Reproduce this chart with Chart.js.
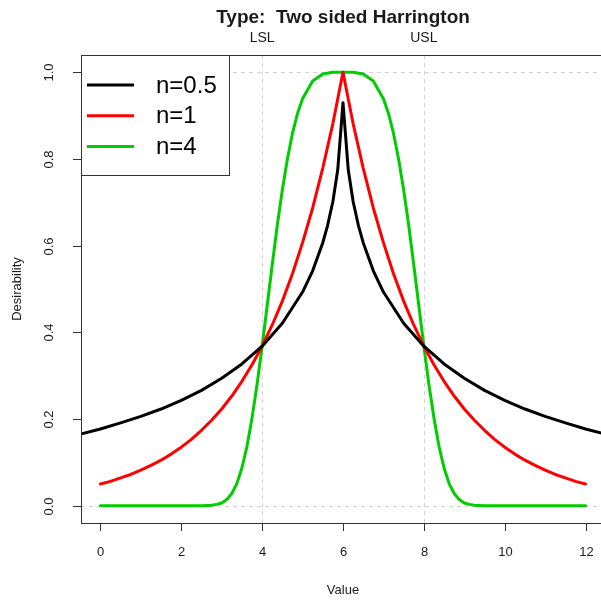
<!DOCTYPE html>
<html>
<head>
<meta charset="utf-8">
<script src="https://cdn.jsdelivr.net/npm/chart.js@4"></script>
<style>
  html, body { margin: 0; padding: 0; background: #fff; overflow: hidden; }
  #wrap { width: 610px; height: 602px; position: relative; }
</style>
</head>
<body>
<div id="wrap"><canvas id="c"></canvas></div>
<script>
// ---- data ----
const titleText = "Type:  Two sided Harrington";
const xAxisTitle = "Value";
const yAxisTitle = "Desirability";
const seriesNames = ["n=0.5", "n=1", "n=4"];
const seriesColors = ["#000000", "#FF0000", "#00CD00"];

const specValues = [4, 8];
const specLabels = ["LSL", "USL"];

const xTicks = [0, 2, 4, 6, 8, 10, 12];
const xTickLabels = ["0", "2", "4", "6", "8", "10", "12"];
const yTicks = [0, 0.2, 0.4, 0.6, 0.8, 1.0];
const yTickLabels = ["0.0", "0.2", "0.4", "0.6", "0.8", "1.0"];

const blackX = [-0.5,0,0.5,1,1.5,2,2.5,3,3.5,4,4.5,5,5.25,5.5,5.62,5.75,5.87,6,6.13,6.25,6.38,6.5,6.75,7,7.5,8,8.5,9,9.5,10,10.5,11,11.5,12,12.5];
const blackY = [0.165,0.177,0.191,0.206,0.223,0.243,0.266,0.294,0.327,0.368,0.421,0.493,0.542,0.607,0.647,0.702,0.775,0.930,0.775,0.702,0.647,0.607,0.542,0.493,0.421,0.368,0.327,0.294,0.266,0.243,0.223,0.206,0.191,0.177,0.165];

const redX = [0,0.25,0.5,0.75,1,1.25,1.5,1.75,2,2.25,2.5,2.75,3,3.25,3.5,3.75,4,4.25,4.5,4.75,5,5.25,5.5,5.75,6,6.25,6.5,6.75,7,7.25,7.5,7.75,8,8.25,8.5,8.75,9,9.25,9.5,9.75,10,10.25,10.5,10.75,11,11.25,11.5,11.75,12];
const redY = [0.050,0.056,0.064,0.072,0.082,0.093,0.105,0.119,0.135,0.153,0.174,0.197,0.223,0.253,0.287,0.325,0.368,0.417,0.472,0.535,0.607,0.687,0.779,0.882,1.000,0.882,0.779,0.687,0.607,0.535,0.472,0.417,0.368,0.325,0.287,0.253,0.223,0.197,0.174,0.153,0.135,0.119,0.105,0.093,0.082,0.072,0.064,0.056,0.050];

const greenX = [0,0.5,1,1.5,2,2.5,2.75,2.875,3,3.125,3.25,3.375,3.5,3.625,3.75,3.875,4,4.125,4.25,4.375,4.5,4.625,4.75,4.875,5,5.25,5.5,5.75,6,6.25,6.5,6.75,7,7.125,7.25,7.375,7.5,7.625,7.75,7.875,8,8.125,8.25,8.375,8.5,8.625,8.75,8.875,9,9.125,9.25,9.5,10,10.5,11,11.5,12];
const greenY = [0,0,0,0,0,0,0.001,0.003,0.006,0.014,0.028,0.051,0.087,0.137,0.202,0.280,0.368,0.462,0.556,0.647,0.729,0.800,0.859,0.905,0.939,0.980,0.996,1.000,1.000,1.000,0.996,0.980,0.939,0.905,0.859,0.800,0.729,0.647,0.556,0.462,0.368,0.280,0.202,0.137,0.087,0.051,0.028,0.014,0.006,0.003,0.001,0,0,0,0,0,0];

function pts(xs, ys) { return xs.map((x, i) => ({ x: x, y: ys[i] })); }

const FONT = '"Liberation Sans", Arial, sans-serif';
const TXT = '#1a1a1a';

const rPlot = {
  id: 'rPlot',
  beforeDatasetsDraw(chart) {
    const { ctx, chartArea: a, scales: { x, y } } = chart;
    ctx.save();
    ctx.strokeStyle = '#d3d3d3';
    ctx.lineWidth = 1;
    ctx.setLineDash([4, 4]);
    [0, 1].forEach(v => {
      const py = Math.round(y.getPixelForValue(v)) + 0.5;
      ctx.beginPath(); ctx.moveTo(a.left, py); ctx.lineTo(a.right, py); ctx.stroke();
    });
    specValues.forEach(v => {
      const px = Math.round(x.getPixelForValue(v)) + 0.5;
      ctx.beginPath(); ctx.moveTo(px, a.top); ctx.lineTo(px, a.bottom); ctx.stroke();
    });
    ctx.restore();
  },
  afterDraw(chart) {
    const { ctx, chartArea: a, scales: { x, y } } = chart;
    ctx.save();
    // box
    ctx.strokeStyle = '#333';
    ctx.lineWidth = 1;
    ctx.strokeRect(Math.round(a.left) + 0.5, Math.round(a.top) + 0.5, Math.round(a.right - a.left), Math.round(a.bottom - a.top));
    // x ticks
    ctx.fillStyle = TXT;
    ctx.font = '13px ' + FONT;
    ctx.textAlign = 'center';
    ctx.textBaseline = 'middle';
    xTicks.forEach((v, i) => {
      const px = Math.round(x.getPixelForValue(v)) + 0.5;
      ctx.beginPath(); ctx.moveTo(px, a.bottom); ctx.lineTo(px, a.bottom + 8); ctx.stroke();
      ctx.fillText(xTickLabels[i], px, a.bottom + 29);
    });
    // y ticks
    yTicks.forEach((v, i) => {
      const py = Math.round(y.getPixelForValue(v)) + 0.5;
      ctx.beginPath(); ctx.moveTo(a.left, py); ctx.lineTo(a.left - 8, py); ctx.stroke();
      ctx.save();
      ctx.translate(a.left - 32, py);
      ctx.rotate(-Math.PI / 2);
      ctx.fillText(yTickLabels[i], 0, 0);
      ctx.restore();
    });
    // axis titles
    const cx = (a.left + a.right) / 2;
    ctx.fillText(xAxisTitle, cx, 590);
    ctx.save();
    ctx.translate(17, 289);
    ctx.rotate(-Math.PI / 2);
    ctx.fillText(yAxisTitle, 0, 0);
    ctx.restore();
    // spec labels
    ctx.font = '14px ' + FONT;
    specValues.forEach((v, i) => {
      ctx.fillText(specLabels[i], x.getPixelForValue(v), 38);
    });
    // title
    ctx.font = 'bold 19px ' + FONT;
    ctx.fillText(titleText, cx, 18);
    // legend
    const lx = Math.round(a.left) + 0.5, ly = Math.round(a.top) + 0.5;
    ctx.fillStyle = '#fff';
    ctx.fillRect(lx, ly, 148, 120);
    ctx.strokeStyle = '#333';
    ctx.strokeRect(lx, ly, 148, 120);
    ctx.font = '24px ' + FONT;
    ctx.textAlign = 'left';
    seriesNames.forEach((n, i) => {
      const yy = 85 + i * 30.7;
      ctx.strokeStyle = seriesColors[i];
      ctx.lineWidth = 3;
      ctx.beginPath(); ctx.moveTo(87, yy); ctx.lineTo(134, yy); ctx.stroke();
      ctx.fillStyle = '#000';
      ctx.fillText(n, 156, yy + 1);
    });
    ctx.restore();
  }
};

new Chart(document.getElementById('c'), {
  type: 'line',
  data: {
    datasets: [
      { label: seriesNames[0], data: pts(blackX, blackY), borderColor: seriesColors[0] },
      { label: seriesNames[1], data: pts(redX, redY), borderColor: seriesColors[1] },
      { label: seriesNames[2], data: pts(greenX, greenY), borderColor: seriesColors[2] }
    ]
  },
  options: {
    responsive: true,
    maintainAspectRatio: false,
    animation: false,
    parsing: false,
    layout: { padding: { left: 81, right: 5, top: 55, bottom: 79 } },
    elements: {
      point: { radius: 0 },
      line: { borderWidth: 3, tension: 0, fill: false, borderJoinStyle: 'round', borderCapStyle: 'round' }
    },
    plugins: { legend: { display: false }, title: { display: false }, tooltip: { enabled: false } },
    scales: {
      x: { type: 'linear', min: -0.48, max: 12.48, display: false },
      y: { type: 'linear', min: -0.04, max: 1.04, display: false }
    }
  },
  plugins: [rPlot]
});
</script>
</body>
</html>
